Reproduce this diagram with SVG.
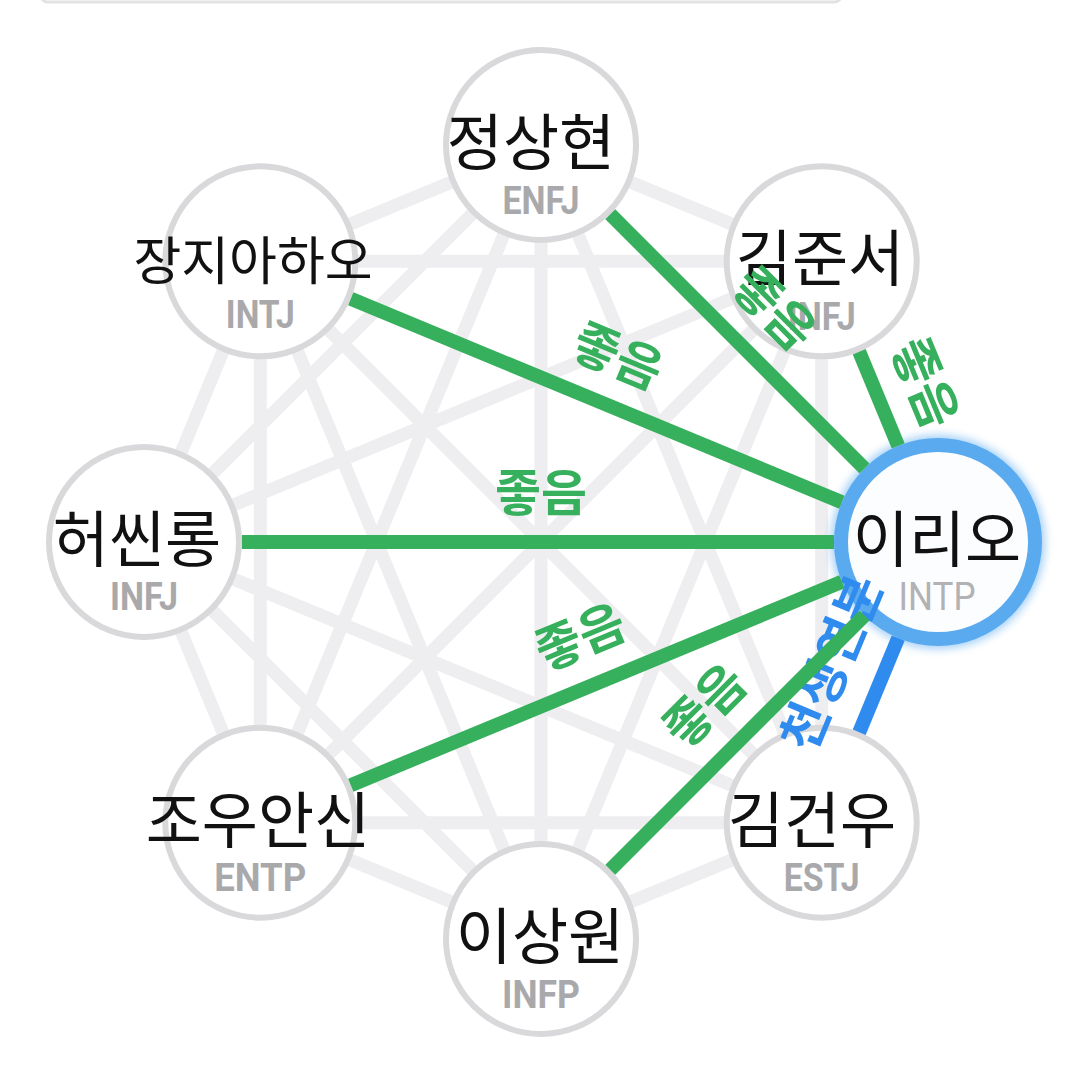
<svg xmlns="http://www.w3.org/2000/svg" width="1078" height="1072" viewBox="0 0 1078 1072">
<defs>
<style>
.bg{stroke:#eeeef0;stroke-width:13;stroke-linecap:butt}
.nd{fill:#ffffff;stroke:#d9d9dc;stroke-width:6}
.nm{font-family:"Noto Sans CJK KR","Noto Sans",sans-serif;font-size:61px;fill:#111111;text-anchor:middle}
.mb{font-family:Roboto,"Liberation Sans",sans-serif;font-size:38px;font-weight:bold;fill:#a9a9ac;text-anchor:middle}
.good{stroke:#36b05c;stroke-width:14}
.best{stroke:#2f8cee;stroke-width:14}
.lg{font-family:"Noto Sans CJK KR","Noto Sans",sans-serif;font-size:50px;font-weight:bold;fill:#36b05c;text-anchor:middle;dominant-baseline:central}
.lb{font-family:"Noto Sans CJK KR","Noto Sans",sans-serif;font-size:50px;font-weight:bold;fill:#2f8cee;text-anchor:middle;dominant-baseline:central}
</style>
<filter id="glow" x="-30%" y="-30%" width="160%" height="160%"><feGaussianBlur stdDeviation="4"/></filter>
</defs>
<rect x="0" y="0" width="1078" height="1072" fill="#ffffff"/>
<rect x="40" y="-30" width="802" height="32" rx="8" fill="#ffffff" stroke="#e2e2e2" stroke-width="3"/>

<g id="background-links">
<line class="bg" x1="541" y1="145" x2="821.7" y2="261.3"/>
<line class="bg" x1="541" y1="145" x2="938" y2="542"/>
<line class="bg" x1="541" y1="145" x2="821.7" y2="822.7"/>
<line class="bg" x1="541" y1="145" x2="541" y2="939"/>
<line class="bg" x1="541" y1="145" x2="260.3" y2="822.7"/>
<line class="bg" x1="541" y1="145" x2="144" y2="542"/>
<line class="bg" x1="541" y1="145" x2="260.3" y2="261.3"/>
<line class="bg" x1="821.7" y1="261.3" x2="938" y2="542"/>
<line class="bg" x1="821.7" y1="261.3" x2="821.7" y2="822.7"/>
<line class="bg" x1="821.7" y1="261.3" x2="541" y2="939"/>
<line class="bg" x1="821.7" y1="261.3" x2="260.3" y2="822.7"/>
<line class="bg" x1="821.7" y1="261.3" x2="144" y2="542"/>
<line class="bg" x1="821.7" y1="261.3" x2="260.3" y2="261.3"/>
<line class="bg" x1="938" y1="542" x2="821.7" y2="822.7"/>
<line class="bg" x1="938" y1="542" x2="541" y2="939"/>
<line class="bg" x1="938" y1="542" x2="260.3" y2="822.7"/>
<line class="bg" x1="938" y1="542" x2="144" y2="542"/>
<line class="bg" x1="938" y1="542" x2="260.3" y2="261.3"/>
<line class="bg" x1="821.7" y1="822.7" x2="541" y2="939"/>
<line class="bg" x1="821.7" y1="822.7" x2="260.3" y2="822.7"/>
<line class="bg" x1="821.7" y1="822.7" x2="144" y2="542"/>
<line class="bg" x1="821.7" y1="822.7" x2="260.3" y2="261.3"/>
<line class="bg" x1="541" y1="939" x2="260.3" y2="822.7"/>
<line class="bg" x1="541" y1="939" x2="144" y2="542"/>
<line class="bg" x1="541" y1="939" x2="260.3" y2="261.3"/>
<line class="bg" x1="260.3" y1="822.7" x2="144" y2="542"/>
<line class="bg" x1="260.3" y1="822.7" x2="260.3" y2="261.3"/>
<line class="bg" x1="144" y1="542" x2="260.3" y2="261.3"/>
</g>

<g id="node-jeongsanghyeon">
<circle class="nd" cx="541" cy="145" r="95"/>
<text class="nm" x="531" y="165">정상현</text>
<text class="mb" x="541" y="214" textLength="77" lengthAdjust="spacingAndGlyphs">ENFJ</text>
</g>
<g id="node-kimjunseo">
<circle class="nd" cx="821.7" cy="261.3" r="95"/>
<text class="nm" x="820" y="281">김준서</text>
<text class="mb" x="821.7" y="330" textLength="68" lengthAdjust="spacingAndGlyphs">INFJ</text>
</g>
<g id="node-kimgeonwoo">
<circle class="nd" cx="821.7" cy="822.7" r="95"/>
<text class="nm" x="812" y="843">김건우</text>
<text class="mb" x="821.7" y="891" textLength="76" lengthAdjust="spacingAndGlyphs">ESTJ</text>
</g>
<g id="node-leesangwon">
<circle class="nd" cx="541" cy="939" r="95"/>
<text class="nm" x="540" y="959">이상원</text>
<text class="mb" x="541" y="1008" textLength="78" lengthAdjust="spacingAndGlyphs">INFP</text>
</g>
<g id="node-jowuansin">
<circle class="nd" cx="260.3" cy="822.7" r="95"/>
<text class="nm" x="258" y="843">조우안신</text>
<text class="mb" x="260.3" y="891" textLength="92" lengthAdjust="spacingAndGlyphs">ENTP</text>
</g>
<g id="node-heossinrong">
<circle class="nd" cx="144" cy="542" r="95"/>
<text class="nm" x="137" y="562">허씬롱</text>
<text class="mb" x="144" y="610" textLength="68" lengthAdjust="spacingAndGlyphs">INFJ</text>
</g>
<g id="node-jangjiahao">
<circle class="nd" cx="260.3" cy="261.3" r="95"/>
<text class="nm" x="253" y="280" style="font-size:52px">장지아하오</text>
<text class="mb" x="260.3" y="328" textLength="69" lengthAdjust="spacingAndGlyphs">INTJ</text>
</g>
<g id="node-lirio">
<circle cx="938" cy="542" r="97" fill="none" stroke="#5aaaf0" stroke-width="20" opacity="0.55" filter="url(#glow)"/>
<circle cx="938" cy="542" r="97" fill="#fcfdff" stroke="#5aaaf0" stroke-width="14"/>
<text class="nm" x="937" y="562">이리오</text>
<text class="mb" x="937" y="610" textLength="77" lengthAdjust="spacingAndGlyphs" style="font-weight:normal;fill:#b2b2b4">INTP</text>
</g>

<g id="connectors">
<line class="best" x1="859.2" y1="732.2" x2="898.2" y2="638.1"/>
<text class="lb" transform="translate(828 661) rotate(-67.5)">천생연분</text>
<line class="good" x1="350.8" y1="298.8" x2="841.9" y2="502.2"/>
<line class="good" x1="610.3" y1="214.3" x2="864.5" y2="468.5"/>
<line class="good" x1="859.2" y1="351.8" x2="898.2" y2="445.9"/>
<line class="good" x1="242" y1="542" x2="834" y2="542"/>
<line class="good" x1="350.8" y1="785.2" x2="841.9" y2="581.8"/>
<line class="good" x1="610.3" y1="869.7" x2="864.5" y2="615.5"/>
<text class="lg" transform="translate(619.4 352.7) rotate(22.5)">좋음</text>
<text class="lg" transform="translate(777 306) rotate(45)">좋음</text>
<text class="lg" transform="translate(928.8 381.4) rotate(67.5)">좋음</text>
<text class="lg" transform="translate(541 489)">좋음</text>
<text class="lg" transform="translate(578.9 633.4) rotate(-22.5)">좋음</text>
<text class="lg" transform="translate(702 703) rotate(-45)">좋음</text>
</g>
</svg>
